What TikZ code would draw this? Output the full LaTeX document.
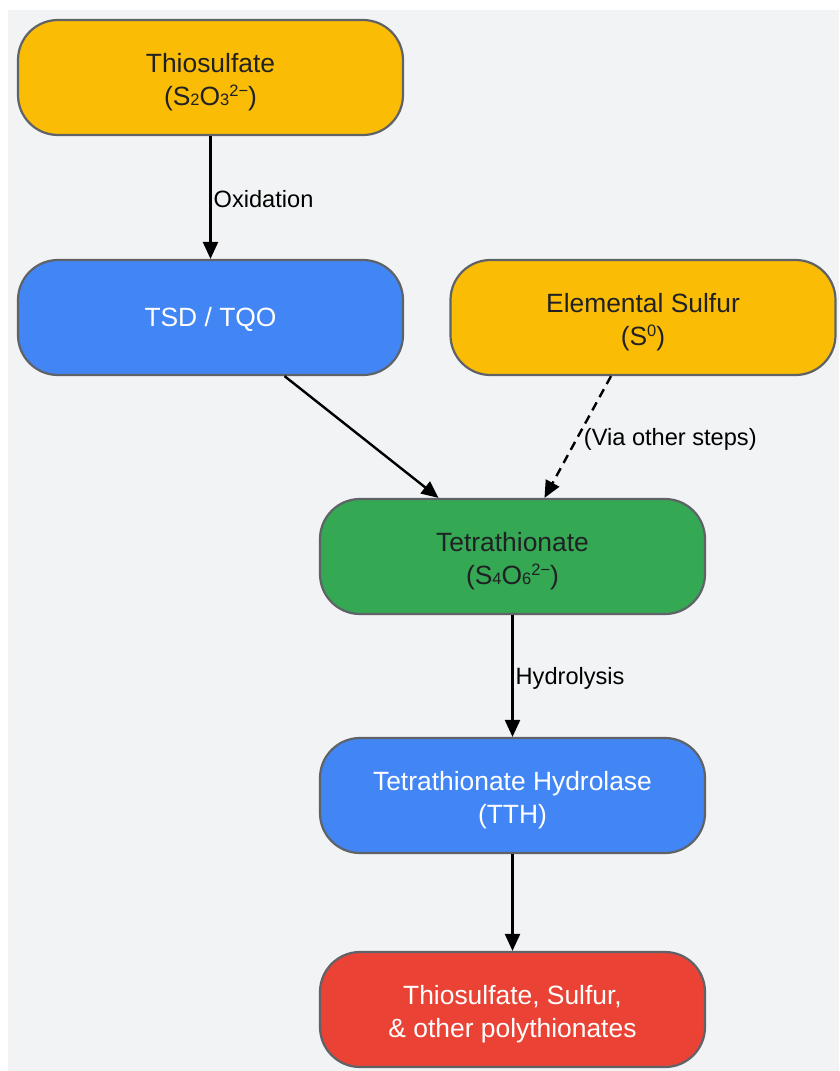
\documentclass[tikz,border=0pt]{standalone}
\usepackage{fontspec}
\setmainfont{Liberation Sans}
\usetikzlibrary{arrows.meta}
\definecolor{bg}{HTML}{F1F3F4}
\definecolor{gyellow}{HTML}{FBBC05}
\definecolor{gblue}{HTML}{4285F4}
\definecolor{ggreen}{HTML}{34A853}
\definecolor{gred}{HTML}{EA4335}
\definecolor{bordergray}{HTML}{5F6368}
\definecolor{darktext}{HTML}{202124}
\newcommand\chsub[1]{\raisebox{-0.02em}[0pt][0pt]{\fontsize{16.5}{16.5}\selectfont #1}}
\newcommand\chsup[1]{\raisebox{0.33em}[0pt][0pt]{\fontsize{16.5}{16.5}\selectfont #1}}
\newcommand\topstrut{\rule{0pt}{28pt}}
\begin{document}
\begin{tikzpicture}[x=1pt,y=-1pt,
  box/.style={draw=bordergray, line width=2.2pt, rounded corners=40pt,
    minimum width=385pt, minimum height=115pt, align=center,
    font=\fontsize{26.4}{33}\selectfont, inner sep=0pt},
  ybox/.style={box, fill=gyellow, text=darktext},
  bbox/.style={box, fill=gblue, text=white},
  gbox/.style={box, fill=ggreen, text=darktext},
  rbox/.style={box, fill=gred, text=white},
  arr/.style={line width=2.4pt, -{Triangle[length=17pt,width=15pt]}},
  lab/.style={font=\fontsize{23.6}{28}\selectfont, text=black, inner sep=2pt, yshift=-2pt}]
\path[use as bounding box] (0,0) rectangle (839,1071);
\fill[bg] (8,10) rectangle (839,1071);
\node[ybox] (thio) at (210.5,77.5) {\topstrut Thiosulfate\\(S\chsub{2}O\chsub{3}\chsup{2−})};
\node[bbox] (tsd) at (210.5,317.5) {\rule{0pt}{23pt}TSD / TQO};
\node[ybox] (sulf) at (643,317.5) {\topstrut Elemental Sulfur\\(S\chsup{0})};
\node[gbox] (tet) at (512.5,556.5) {\topstrut Tetrathionate\\(S\chsub{4}O\chsub{6}\chsup{2−})};
\node[bbox] (tth) at (512.5,795.5) {\topstrut Tetrathionate Hydrolase\\(TTH)};
\node[rbox] (prod) at (512.5,1009.5) {\topstrut Thiosulfate, Sulfur,\\\& other polythionates};
\draw[arr] (thio) -- node[lab, right] {Oxidation} (tsd);
\draw[arr] (tsd) -- (tet);
\draw[arr, dash pattern=on 9pt off 6pt] (sulf) -- node[lab, right, xshift=3pt] {(Via other steps)} (tet);
\draw[arr] (tet) -- node[lab, right] {Hydrolysis} (tth);
\draw[arr] (tth) -- (prod);
\end{tikzpicture}
\end{document}
